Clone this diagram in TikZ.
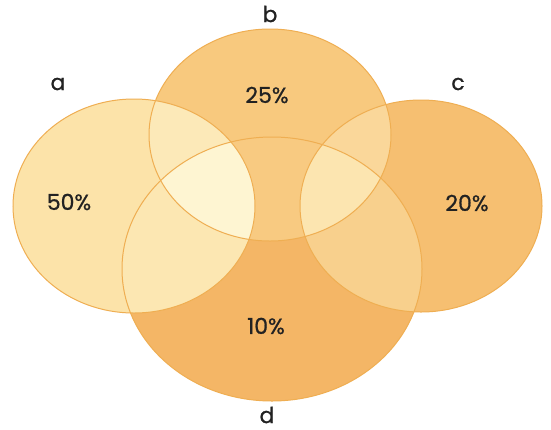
\documentclass[tikz,border=0pt]{standalone}
\usepackage{fontspec}
\setmainfont{Poppins}[FakeBold=0.8]
\definecolor{cA}{HTML}{FCE3A9}
\definecolor{cB}{HTML}{F8C97E}
\definecolor{cC}{HTML}{F6BF71}
\definecolor{cD}{HTML}{F4B666}
\definecolor{cAB}{HTML}{FCE9B8}
\definecolor{cAD}{HTML}{FCE7B2}
\definecolor{cABD}{HTML}{FEF5D2}
\definecolor{cBD}{HTML}{F8CA81}
\definecolor{cBC}{HTML}{FAD79A}
\definecolor{cCD}{HTML}{F8D08D}
\definecolor{cBCD}{HTML}{FCE5B0}
\definecolor{cEdge}{HTML}{EFAE52}
\definecolor{cText}{HTML}{222222}
\def\pathA{(134,206) ellipse [x radius=121pt, y radius=107pt]}
\def\pathB{(270,135) ellipse [x radius=121pt, y radius=106pt]}
\def\pathC{(421,206) ellipse [x radius=121pt, y radius=106pt]}
\def\pathD{(272,269) ellipse [x radius=150pt, y radius=132pt]}
\tikzset{
  setlabel/.style={text=cText, font=\fontsize{22}{24}\selectfont, inner sep=0pt},
  pctlabel/.style={text=cText, font=\fontsize{22}{24}\selectfont, inner sep=0pt},
  edge/.style={draw=cEdge, line width=1pt}
}
\begin{document}
\begin{tikzpicture}[x=1pt,y=-1pt]
\useasboundingbox (0,0) rectangle (551,429);
\fill[white] (0,0) rectangle (551,429);
% base fills
\fill[cA] \pathA;
\fill[cC] \pathC;
\fill[cB] \pathB;
\fill[cD] \pathD;
% overlaps
\begin{scope}\clip \pathB; \fill[cBD] \pathD; \end{scope}
\begin{scope}\clip \pathA; \fill[cAB] \pathB; \end{scope}
\begin{scope}\clip \pathA; \fill[cAD] \pathD; \end{scope}
\begin{scope}\clip \pathA; \clip \pathB; \fill[cABD] \pathD; \end{scope}
\begin{scope}\clip \pathC; \fill[cBC] \pathB; \end{scope}
\begin{scope}\clip \pathC; \fill[cCD] \pathD; \end{scope}
\begin{scope}\clip \pathC; \clip \pathB; \fill[cBCD] \pathD; \end{scope}
% outlines
\draw[edge] \pathA;
\draw[edge] \pathB;
\draw[edge] \pathC;
\draw[edge] \pathD;
% labels
\node[setlabel] (la) at (58,84) {a};
\node[setlabel] (lb) at (270,14) {b};
\node[setlabel] (lc) at (458,84) {c};
\node[setlabel] (ld) at (267,415) {d};
\node[pctlabel] (pa) at (69,202) {50\%};
\node[pctlabel] (pb) at (267,95) {25\%};
\node[pctlabel] (pc) at (467,203) {20\%};
\node[pctlabel] (pd) at (266,326) {10\%};
\end{tikzpicture}
\end{document}
